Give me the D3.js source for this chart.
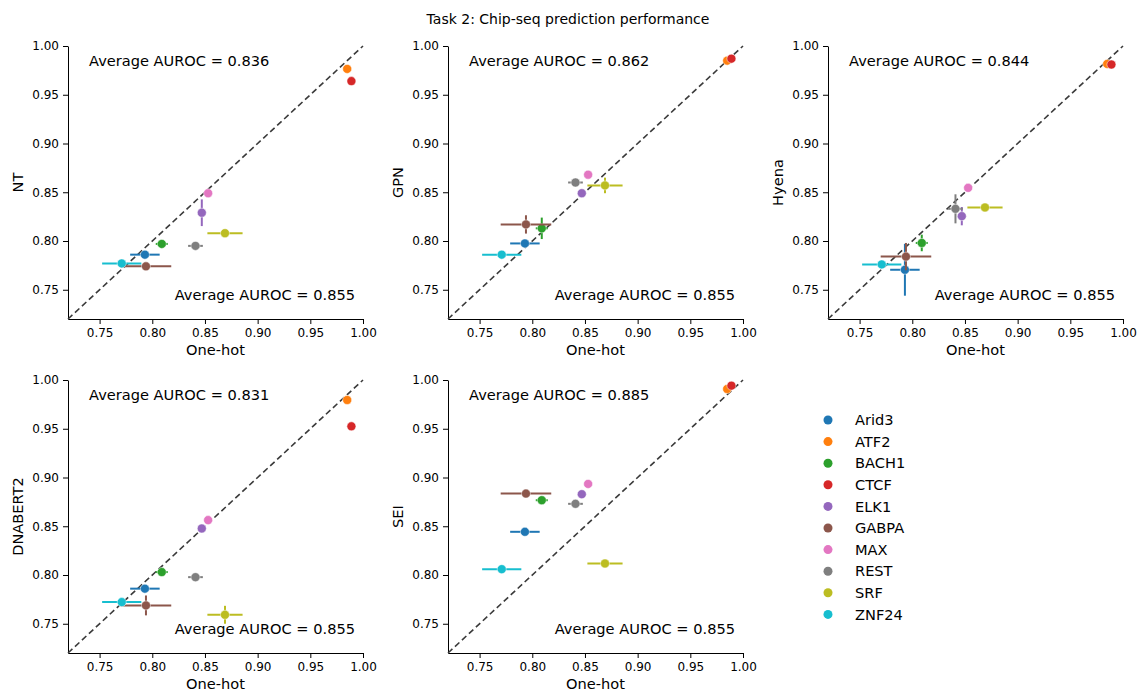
<!DOCTYPE html>
<html>
<head>
<meta charset="utf-8">
<script src="https://cdn.jsdelivr.net/npm/d3@7"></script>
<style>
  body { margin: 0; background: #fff; }
  svg { font-family: "DejaVu Sans", sans-serif; }
</style>
</head>
<body>
<div id="chart"></div>
<script>
// TFs and their colours (tab10)
var tfs = ['Arid3', 'ATF2', 'BACH1', 'CTCF', 'ELK1', 'GABPA', 'MAX', 'REST', 'SRF', 'ZNF24'];
var colors = ['#1f77b4', '#ff7f0e', '#2ca02c', '#d62728', '#9467bd', '#8c564b', '#e377c2', '#7f7f7f', '#bcbd22', '#17becf'];

// one-hot baseline (x axis) mean and std
var onehot    = [0.793, 0.985, 0.809, 0.989, 0.847, 0.794, 0.853, 0.841, 0.869, 0.771];
var onehotErr = [0.014, 0.002, 0.0057, 0.002, 0.002, 0.024, 0.002, 0.007, 0.0167, 0.0186];
var onehotAvg = '0.855';

// model results (y axis)
var models = ['NT', 'GPN', 'Hyena', 'DNABERT2', 'SEI'];
var modelAvg = ['0.836', '0.862', '0.844', '0.831', '0.885'];
var ntY       = [0.786, 0.9765, 0.797, 0.964, 0.829, 0.774, 0.849, 0.795, 0.808, 0.777];
var ntErr     = [0.002, 0.002, 0.002, 0.002, 0.0137, 0.002, 0.002, 0.003, 0.002, 0.002];
var gpnY      = [0.7975, 0.985, 0.813, 0.987, 0.849, 0.817, 0.868, 0.860, 0.857, 0.786];
var gpnErr    = [0.002, 0.002, 0.011, 0.002, 0.002, 0.0094, 0.002, 0.002, 0.008, 0.002];
var hyenaY    = [0.7705, 0.9816, 0.798, 0.981, 0.8255, 0.784, 0.8545, 0.833, 0.8344, 0.776];
var hyenaErr  = [0.0266, 0.002, 0.0085, 0.002, 0.0094, 0.014, 0.002, 0.0149, 0.002, 0.002];
var dnabertY  = [0.786, 0.9795, 0.803, 0.9525, 0.8477, 0.7688, 0.8563, 0.7978, 0.7592, 0.7722];
var dnabertErr= [0.002, 0.002, 0.002, 0.002, 0.002, 0.0102, 0.002, 0.002, 0.0092, 0.002];
var seiY      = [0.8443, 0.9908, 0.8767, 0.9942, 0.8829, 0.8835, 0.8934, 0.873, 0.8118, 0.806];
var seiErr    = [0.002, 0.002, 0.002, 0.002, 0.002, 0.002, 0.002, 0.002, 0.002, 0.002];
var modelY = [ntY, gpnY, hyenaY, dnabertY, seiY];
var modelErr = [ntErr, gpnErr, hyenaErr, dnabertErr, seiErr];

var ticks = [0.75, 0.80, 0.85, 0.90, 0.95, 1.00];
var W = 1137, H = 690;

var svg = d3.select('#chart').append('svg')
  .attr('width', W)
  .attr('height', H);

svg.append('text')
  .attr('x', 568).attr('y', 24)
  .attr('text-anchor', 'middle')
  .style('font-size', '14px')
  .text('Task 2: Chip-seq prediction performance');

var pw = 295, ph = 273;
var panelPos = [[68, 46], [448, 46], [828, 46], [68, 380], [448, 380]];

models.forEach(function (name, m) {
  var ox = panelPos[m][0], oy = panelPos[m][1];
  var x = d3.scaleLinear().domain([0.72, 1.0]).range([0, pw]);
  var y = d3.scaleLinear().domain([0.72, 1.0]).range([ph, 0]);
  var g = svg.append('g').attr('transform', 'translate(' + ox + ',' + oy + ')');

  var xAxis = g.append('g').attr('transform', 'translate(0,' + ph + ')')
    .call(d3.axisBottom(x).tickValues(ticks).tickFormat(d3.format('.2f')).tickSize(5).tickSizeOuter(0).tickPadding(4));
  var yAxis = g.append('g')
    .call(d3.axisLeft(y).tickValues(ticks).tickFormat(d3.format('.2f')).tickSize(5).tickSizeOuter(0).tickPadding(4));
  [xAxis, yAxis].forEach(function (a) {
    a.selectAll('text').style('font-size', '12px').style('font-family', '"DejaVu Sans", sans-serif').attr('fill', '#000');
    a.selectAll('line').attr('stroke', '#000');
    a.select('.domain').attr('stroke', '#000');
  });

  // diagonal
  g.append('line')
    .attr('x1', x(0.72)).attr('y1', y(0.72))
    .attr('x2', x(1.0)).attr('y2', y(1.0))
    .attr('stroke', '#3a3a3a').attr('stroke-width', 1.6)
    .attr('stroke-dasharray', '6,3.5');

  var ys = modelY[m], ye = modelErr[m];
  tfs.forEach(function (tf, i) {
    var c = colors[i];
    var pg = g.append('g');
    pg.append('line')
      .attr('x1', x(onehot[i] - onehotErr[i])).attr('x2', x(onehot[i] + onehotErr[i]))
      .attr('y1', y(ys[i])).attr('y2', y(ys[i]))
      .attr('stroke', c).attr('stroke-width', 2);
    pg.append('line')
      .attr('x1', x(onehot[i])).attr('x2', x(onehot[i]))
      .attr('y1', y(ys[i] - ye[i])).attr('y2', y(ys[i] + ye[i]))
      .attr('stroke', c).attr('stroke-width', 2);
    pg.append('circle')
      .attr('cx', x(onehot[i])).attr('cy', y(ys[i]))
      .attr('r', 4.5)
      .attr('fill', c).attr('stroke', '#fff').attr('stroke-width', 0.5);
  });

  g.append('text')
    .attr('x', 21).attr('y', 20)
    .style('font-size', '14.6px')
    .text('Average AUROC = ' + modelAvg[m]);
  g.append('text')
    .attr('x', pw - 8).attr('y', 254)
    .attr('text-anchor', 'end')
    .style('font-size', '14.6px')
    .text('Average AUROC = ' + onehotAvg);

  g.append('text')
    .attr('x', pw / 2).attr('y', ph + 35.5)
    .attr('text-anchor', 'middle')
    .style('font-size', '14.6px')
    .text('One-hot');
  g.append('text')
    .attr('transform', 'translate(-45,' + (ph / 2) + ') rotate(-90)')
    .attr('text-anchor', 'middle')
    .style('font-size', '14.6px')
    .text(name);
});

// legend
var leg = svg.append('g').attr('transform', 'translate(828,420)');
tfs.forEach(function (tf, i) {
  var row = leg.append('g').attr('transform', 'translate(0,' + (i * 21.6) + ')');
  row.append('circle').attr('r', 4.5).attr('fill', colors[i]);
  row.append('text')
    .attr('x', 27).attr('dy', '0.35em')
    .style('font-size', '14.6px')
    .text(tf);
});
</script>
</body>
</html>
